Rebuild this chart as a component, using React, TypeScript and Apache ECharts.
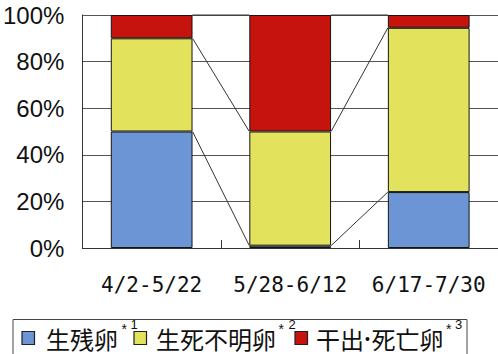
import React, { useEffect, useRef } from "react";
import * as echarts from "echarts";

// Survey periods
const periods = ["4/2-5/22", "5/28-6/12", "6/17-7/30"];

// Share of eggs (%) per period
const survivingEggs = [50, 1, 24];
const unknownEggs = [40, 49, 70.5];
const deadEggs = [10, 50, 5.5];

const seriesNames = ["生残卵", "生死不明卵", "干出·死亡卵"];
const noteMarks = ["1", "2", "3"];
const seriesColors = ["#6b95d5", "#e2e25c", "#c7130d"];

const yTicks = { min: 0, max: 100, interval: 20 };

const BAR_RATIO = 0.59;

export default function App() {
  const ref = useRef<HTMLDivElement>(null);

  useEffect(() => {
    if (!ref.current) return;
    const chart = echarts.init(ref.current, null, { renderer: "svg" });

    const values = [survivingEggs, unknownEggs, deadEggs];
    // cumulative tops of each stacked segment, used for the series lines
    const cumulative: number[][] = [];
    values.forEach((arr, k) => {
      cumulative.push(arr.map((v, i) => v + (k > 0 ? cumulative[k - 1][i] : 0)));
    });
    const connectorData: number[][] = [];
    cumulative.forEach((cum) => {
      for (let i = 0; i < cum.length - 1; i++) connectorData.push([i, cum[i], cum[i + 1]]);
    });

    const legendFont = "'Noto Sans CJK JP', sans-serif";
    const FS = 24;
    const legendItems = [
      { square: 22, text: 46, star: 121.5, note: 130.5 },
      { square: 134, text: 156, star: 278.5, note: 288.5 },
      { square: 295, text: 316, star: 446, note: 455 },
    ];
    const graphics: any[] = [
      {
        type: "rect",
        shape: { x: 13, y: 319.5, width: 454, height: 60 },
        style: { fill: "#fff", stroke: "#444", lineWidth: 1 },
        z: 0,
      },
    ];
    const legendText = (text: string, x: number) => ({
      type: "text",
      x,
      y: 338,
      style: { text, font: `${FS}px ${legendFont}`, fill: "#111", textVerticalAlign: "middle" },
      z: 2,
    });
    legendItems.forEach((it, k) => {
      graphics.push({
        type: "rect",
        shape: { x: it.square, y: 331.5, width: 12.5, height: 13 },
        style: { fill: seriesColors[k], stroke: "#222", lineWidth: 1.2 },
        z: 2,
      });
      // a middle dot is set narrow, between full-width characters
      const parts = seriesNames[k].split("·");
      let x = it.text;
      parts.forEach((part, j) => {
        graphics.push(legendText(part, x));
        x += part.length * FS;
        if (j < parts.length - 1) {
          graphics.push({
            type: "circle",
            shape: { cx: x + 3.5, cy: 339, r: 2 },
            style: { fill: "#111" },
            z: 2,
          });
          x += 7.5;
        }
      });
      graphics.push(
        {
          type: "text",
          x: it.star,
          y: 329,
          style: {
            text: "*",
            font: "14px 'Liberation Sans', sans-serif",
            fill: "#111",
            textVerticalAlign: "middle",
          },
          z: 3,
        },
        {
          type: "text",
          x: it.note,
          y: 324.5,
          style: {
            text: noteMarks[k],
            font: "13px 'Liberation Sans', sans-serif",
            fill: "#111",
            textVerticalAlign: "middle",
          },
          z: 3,
        }
      );
    });

    chart.setOption({
      animation: false,
      backgroundColor: "#ffffff",
      grid: { left: 80, top: 15, right: -3, bottom: 106, containLabel: false },
      xAxis: {
        type: "category",
        data: periods,
        boundaryGap: true,
        axisLine: { show: true, lineStyle: { color: "#333", width: 1 } },
        axisTick: { show: true, inside: true, length: 8, lineStyle: { color: "#333" } },
        axisLabel: {
          interval: 0,
          hideOverlap: false,
          margin: 26,
          color: "#111",
          fontSize: 21,
          fontFamily: "'DejaVu Sans Mono', monospace",
        },
      },
      yAxis: {
        type: "value",
        min: yTicks.min,
        max: yTicks.max,
        interval: yTicks.interval,
        axisLine: { show: true, lineStyle: { color: "#333", width: 1 } },
        axisTick: { show: false },
        splitLine: { show: true, lineStyle: { color: "#555", width: 1 } },
        axisLabel: {
          formatter: "{value}%",
          margin: 18,
          color: "#111",
          fontSize: 24,
          fontFamily: "'Liberation Sans Narrow', 'Liberation Sans', sans-serif",
        },
      },
      series: [
        ...values.map((arr, k) => ({
          name: seriesNames[k],
          type: "bar",
          stack: "total",
          barWidth: `${BAR_RATIO * 100}%`,
          data: arr,
          itemStyle: { color: seriesColors[k], borderColor: "#151515", borderWidth: 1 },
          z: 2,
        })),
        {
          type: "custom",
          name: "series-lines",
          data: connectorData,
          encode: { x: 0, y: 1 },
          z: 3,
          silent: true,
          renderItem: (_params: any, api: any) => {
            const i = api.value(0);
            const band = api.size([1, 0])[0];
            const half = (band * BAR_RATIO) / 2;
            const p1 = api.coord([i, api.value(1)]);
            const p2 = api.coord([i + 1, api.value(2)]);
            return {
              type: "line",
              shape: { x1: p1[0] + half, y1: p1[1], x2: p2[0] - half, y2: p2[1] },
              style: { stroke: "#333", lineWidth: 1 },
            };
          },
        },
      ],
      graphic: graphics,
    });

    return () => chart.dispose();
  }, []);

  return (
    <div
      ref={ref}
      style={{ position: "absolute", left: 0, top: 0, width: 498, height: 354 }}
    />
  );
}
